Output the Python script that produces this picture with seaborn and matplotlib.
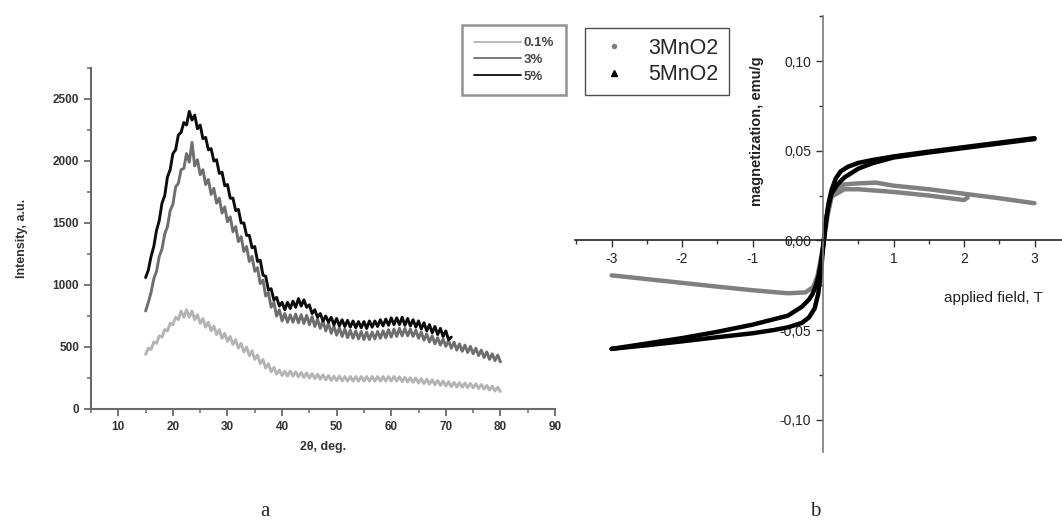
import numpy as np
import pandas as pd
import matplotlib.pyplot as plt
import seaborn as sns
from matplotlib.lines import Line2D
from matplotlib.ticker import MultipleLocator, FuncFormatter

# ---- panel a: XRD patterns (2theta step 0.5 deg) ----
scan_start = 15.0
scan_step = 0.5
i_01 = [440, 490, 480, 540, 530, 590, 580, 640, 630, 690, 680, 740, 720, 790, 740, 800, 740, 790, 720, 760,
        690, 730, 660, 700, 630, 670, 600, 640, 570, 610, 545, 585, 520, 560, 490, 530, 460, 500, 430, 470,
        400, 435, 365, 400, 330, 365, 300, 335, 280, 315, 270, 305, 265, 305, 265, 300, 260, 295, 255, 290,
        250, 285, 245, 280, 240, 275, 235, 270, 230, 265, 228, 265, 226, 262, 225, 262, 225, 262, 225, 262,
        225, 262, 225, 262, 225, 262, 225, 262, 225, 262, 225, 262, 225, 260, 220, 255, 218, 252, 215, 250,
        210, 245, 205, 240, 200, 235, 195, 230, 190, 225, 185, 220, 180, 215, 177, 212, 175, 210, 172, 207,
        170, 203, 165, 198, 160, 190, 152, 183, 145, 175, 140]
i_3 = [790, 860, 940, 1050, 1110, 1230, 1290, 1410, 1470, 1600, 1650, 1790, 1820, 1930, 1940, 2060, 1990, 2150,
       1960, 2010, 1890, 1930, 1810, 1850, 1730, 1780, 1660, 1700, 1580, 1630, 1510, 1550, 1430, 1470, 1350,
       1390, 1270, 1310, 1190, 1230, 1110, 1140, 1010, 1040, 910, 940, 820, 860, 750, 800, 710, 770, 700, 760,
       700, 765, 695, 760, 690, 755, 680, 745, 665, 725, 650, 710, 630, 690, 610, 670, 595, 655, 585, 645,
       575, 635, 570, 630, 565, 625, 560, 620, 560, 620, 565, 625, 570, 630, 575, 640, 580, 645, 585, 650,
       590, 650, 590, 645, 585, 635, 570, 620, 555, 605, 540, 590, 525, 575, 515, 565, 505, 550, 490, 540,
       475, 525, 465, 515, 455, 505, 445, 490, 430, 475, 415, 460, 400, 445, 390, 435, 380]
i_5 = [1060, 1120, 1230, 1310, 1440, 1520, 1660, 1720, 1870, 1930, 2060, 2090, 2210, 2230, 2310, 2290, 2400,
       2330, 2370, 2260, 2290, 2180, 2190, 2090, 2100, 2000, 2010, 1900, 1910, 1800, 1810, 1700, 1700, 1600,
       1610, 1500, 1500, 1400, 1400, 1300, 1310, 1190, 1200, 1080, 1070, 960, 970, 880, 900, 830, 860, 800,
       860, 810, 870, 820, 890, 830, 880, 820, 840, 770, 800, 740, 770, 710, 750, 700, 740, 680, 730, 670,
       720, 665, 715, 660, 710, 655, 705, 655, 705, 650, 710, 660, 710, 665, 720, 670, 725, 675, 735, 680,
       735, 680, 740, 675, 730, 670, 720, 660, 710, 645, 695, 630, 680, 615, 665, 600, 650, 585, 630, 560, 580]
xrd_labels = ["0.1%", "3%", "5%"]
xrd_colors = {"0.1%": "#b4b4b4", "3%": "#6e6e6e", "5%": "#0c0c0c"}

# ---- panel b: magnetization loops ----
mn3_field = [3.0, 2.5, 2.0, 1.5, 1.0, 0.75, 0.5, 0.3, 0.2, 0.12, 0.07, 0.03, 0.0, -0.04, -0.08, -0.14,
             -0.25, -0.5, -1.0, -1.5, -2.0, -2.5, -3.0,
             0.15, 0.3, 0.5, 1.0, 1.5, 2.0, 2.05]
mn3_m = [0.0207, 0.0235, 0.026, 0.0285, 0.0305, 0.0322, 0.0318, 0.0312, 0.029, 0.024, 0.015, 0.005, -0.003,
         -0.012, -0.020, -0.026, -0.029, -0.0295, -0.0278, -0.0258, -0.0237, -0.0216, -0.0195,
         0.025, 0.0285, 0.0285, 0.027, 0.025, 0.0225, 0.0238]
mn3_branch = [0] * 23 + [1] * 7

mn5_field = [3.0, 2.5, 2.0, 1.5, 1.0, 0.7, 0.5, 0.35, 0.25, 0.18, 0.12, 0.08, 0.05, 0.03, 0.0, -0.03, -0.06,
             -0.1, -0.15, -0.2, -0.3, -0.5, -0.7, -1.0, -1.5, -2.0, -2.5, -3.0,
             -3.0, -2.5, -2.0, -1.5, -1.0, -0.7, -0.5, -0.3, -0.2, -0.12, -0.07, -0.03, 0.0, 0.03, 0.07,
             0.12, 0.2, 0.3, 0.5, 0.7, 1.0, 1.5, 2.0, 2.5, 3.0]
mn5_m = [0.057, 0.0545, 0.052, 0.0495, 0.0468, 0.0448, 0.0432, 0.041, 0.0385, 0.0345, 0.028, 0.021, 0.013,
         0.006, -0.004, -0.012, -0.019, -0.025, -0.030, -0.033, -0.037, -0.042, -0.044, -0.047, -0.051,
         -0.0545, -0.0575, -0.0605,
         -0.0605, -0.0585, -0.0563, -0.054, -0.0518, -0.050, -0.0485, -0.046, -0.043, -0.038, -0.030,
         -0.018, -0.004, 0.008, 0.018, 0.026, 0.031, 0.035, 0.040, 0.043, 0.0462, 0.049, 0.0515, 0.054, 0.0565]
mn5_branch = [2] * 28 + [3] * 25

for arr in (i_01, i_3):
    assert len(arr) == 131, len(arr)
assert len(i_5) == 113, len(i_5)

frames = []
for lab, vals in zip(xrd_labels, [i_01, i_3, i_5]):
    frames.append(pd.DataFrame({"two_theta": scan_start + scan_step * np.arange(len(vals)),
                                "intensity": vals, "sample": lab}))
xrd = pd.concat(frames, ignore_index=True)

mag = pd.concat([
    pd.DataFrame({"field": mn3_field, "m": mn3_m, "branch": mn3_branch, "sample": "3MnO2"}),
    pd.DataFrame({"field": mn5_field, "m": mn5_m, "branch": mn5_branch, "sample": "5MnO2"}),
], ignore_index=True)

sns.set_style("ticks")
plt.rcParams["font.family"] = ["Liberation Sans", "DejaVu Sans"]
plt.rcParams["axes.unicode_minus"] = False

fig = plt.figure(figsize=(10.62, 5.23), dpi=100)
ax_a = fig.add_axes([0.0857, 0.218, 0.4369, 0.652])
ax_b = fig.add_axes([0.5414, 0.1358, 0.4586, 0.8332])

# panel a
sns.lineplot(data=xrd, x="two_theta", y="intensity", hue="sample", palette=xrd_colors,
             estimator=None, lw=2.1, legend=False, ax=ax_a)
ax_a.set_xlim(5, 90)
ax_a.set_ylim(0, 2750)
ax_a.xaxis.set_major_locator(MultipleLocator(10))
ax_a.xaxis.set_minor_locator(MultipleLocator(5))
ax_a.yaxis.set_major_locator(MultipleLocator(500))
ax_a.yaxis.set_minor_locator(MultipleLocator(250))
ax_a.set_xticks(range(10, 91, 10))
for s in ["top", "right"]:
    ax_a.spines[s].set_visible(False)
for s in ["left", "bottom"]:
    ax_a.spines[s].set_color("#6a6a6a")
    ax_a.spines[s].set_linewidth(1.5)
ax_a.tick_params(which="major", direction="out", length=5, width=1.3, color="#6a6a6a",
                 labelsize=8.5, labelcolor="#333333", bottom=True, left=True)
ax_a.tick_params(which="minor", direction="out", length=3, width=1.1, color="#6a6a6a",
                 bottom=True, left=True)
for t in ax_a.get_xticklabels() + ax_a.get_yticklabels():
    t.set_fontweight("bold")
ax_a.set_xlabel("2θ, deg.", fontsize=9, fontweight="bold", color="#333333", labelpad=6)
ax_a.set_ylabel("Intensity, a.u.", fontsize=9, fontweight="bold", color="#333333", labelpad=18)

handles_a = [Line2D([], [], color=xrd_colors[l], lw=1.3) for l in xrd_labels]
leg_a = fig.legend(handles_a, xrd_labels, loc="upper left", bbox_to_anchor=(0.435, 0.952),
                   borderaxespad=0, frameon=True, fancybox=False, handlelength=3.6,
                   handletextpad=0.2, borderpad=0.9, labelspacing=0.35,
                   prop={"weight": "bold", "size": 9.5})
leg_a.get_frame().set_edgecolor("#777777")
leg_a.get_frame().set_linewidth(1.8)
for t in leg_a.get_texts():
    t.set_color("#444444")

# panel b
sns.lineplot(data=mag, x="field", y="m", hue="sample", units="branch",
             palette={"3MnO2": "#808080", "5MnO2": "#000000"},
             estimator=None, sort=False, lw=3.2, legend=False, ax=ax_b)
ax_b.set_xlim(-3.52, 3.39)
ax_b.set_ylim(-0.118, 0.125)
ax_b.spines["left"].set_position(("data", 0))
ax_b.spines["bottom"].set_position(("data", 0))
ax_b.spines["top"].set_visible(False)
ax_b.spines["right"].set_visible(False)
ax_b.spines["left"].set_color("#7a7a7a")
ax_b.spines["left"].set_linewidth(1.2)
ax_b.spines["bottom"].set_color("#222222")
ax_b.spines["bottom"].set_linewidth(1.2)
ax_b.set_xticks([-3, -2, -1, 1, 2, 3])
ax_b.xaxis.set_minor_locator(MultipleLocator(0.5))
ax_b.set_yticks([-0.10, -0.05, 0.0, 0.05, 0.10])
ax_b.yaxis.set_minor_locator(MultipleLocator(0.025))
ax_b.yaxis.set_major_formatter(FuncFormatter(lambda v, p: f"{v:.2f}".replace(".", ",").replace("-0,00", "0,00")))
ax_b.tick_params(which="major", direction="out", length=5, width=1, color="#333333",
                 labelsize=10, labelcolor="#222222", bottom=True, left=True)
ax_b.tick_params(which="minor", direction="out", length=3, width=1, color="#333333",
                 bottom=True, left=True)
ax_b.set_xlabel("")
ax_b.set_ylabel("")
fig.text(757 / 1062, 1 - 131 / 523, "magnetization, emu/g", rotation=90, ha="center", va="center",
         fontsize=10.5, fontweight="bold", color="#222222")
fig.text(944 / 1062, 1 - 298 / 523, "applied field, T", ha="left", va="center",
         fontsize=11, color="#222222")

handles_b = [Line2D([], [], ls="", marker="o", ms=3, color="#808080"),
             Line2D([], [], ls="", marker="^", ms=4, color="#000000")]
leg_b = fig.legend(handles_b, ["3MnO2", "5MnO2"], loc="upper left", bbox_to_anchor=(0.551, 0.946),
                   borderaxespad=0, frameon=True, fancybox=False, handlelength=1.8,
                   handletextpad=0.7, borderpad=0.45, labelspacing=0.25, fontsize=15.5)
leg_b.get_frame().set_edgecolor("#222222")
leg_b.get_frame().set_linewidth(1)

fig.text(265 / 1062, 1 - 512 / 523, "a", ha="center", va="center", fontsize=15,
         family="Liberation Serif")
fig.text(815 / 1062, 1 - 512 / 523, "b", ha="center", va="center", fontsize=15,
         family="Liberation Serif")

fig.savefig("out.png", dpi=100, facecolor="white")
